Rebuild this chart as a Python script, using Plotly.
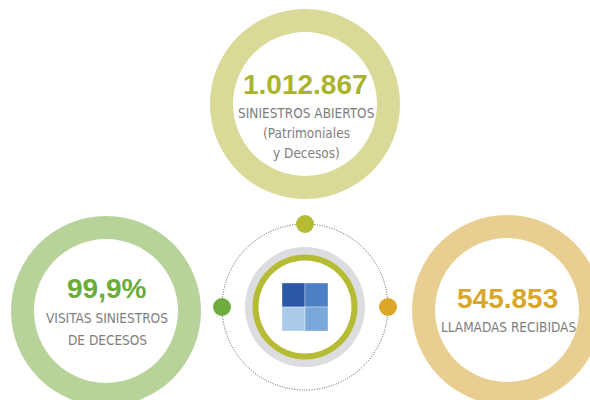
import plotly.graph_objects as go

# ---- data ----
metric_values = ["1.012.867", "99,9%", "545.853"]
metric_labels = [
    ["SINIESTROS ABIERTOS", "(Patrimoniales", "y Decesos)"],
    ["VISITAS SINIESTROS", "DE DECESOS"],
    ["LLAMADAS RECIBIDAS"],
]

# ---- styles / layout constants ----
ring_colors = ["#d9da97", "#b8d39a", "#e8cf91"]
value_colors = ["#a9b42c", "#6aab3b", "#d9a629"]
dot_colors = ["#b5bc33", "#6fac3f", "#dba82a"]
label_color = "#7e7e7e"
centers = [(305, 104), (106, 311), (507, 310)]
R_OUT, R_IN = 95, 72
value_y = [84, 288, 298]
label_y0 = [113, 318, 327]
label_step = [20, 22, 20]

hub = (305, 307)
orbit_r = 83
dot_r = 9
dot_pos = [(hub[0], hub[1] - orbit_r), (hub[0] - orbit_r, hub[1]), (hub[0] + orbit_r, hub[1])]

logo_colors = [["#2a57a6", "#4b81c4"], ["#abc9e9", "#7aa8da"]]
logo_box = (282, 283, 328, 331)
logo_split = (305, 307)

W, H = 590, 400
fig = go.Figure()


def circ(cx, cy, r, fill=None, line=None, layer="below"):
    d = dict(type="circle", xref="x", yref="y", x0=cx - r, x1=cx + r, y0=cy - r, y1=cy + r,
             layer=layer)
    d["fillcolor"] = fill if fill else "rgba(0,0,0,0)"
    d["line"] = line if line else dict(width=0)
    return d


shapes = []
for (cx, cy), col in zip(centers, ring_colors):
    shapes.append(circ(cx, cy, R_OUT, fill=col))
    shapes.append(circ(cx, cy, R_IN, fill="white"))

# hub
shapes.append(circ(hub[0], hub[1], orbit_r, line=dict(color="#555555", width=1, dash="1px,1.5px")))
shapes.append(circ(hub[0], hub[1], 60, fill="#dcdde0"))
shapes.append(circ(hub[0], hub[1], 52.5, fill="#b5bc33"))
shapes.append(circ(hub[0], hub[1], 46.5, fill="white"))
for (x, y), col in zip(dot_pos, dot_colors):
    shapes.append(circ(x, y, dot_r, fill=col))

xs = [logo_box[0], logo_split[0], logo_box[2]]
ys = [logo_box[1], logo_split[1], logo_box[3]]
for i in range(2):
    for j in range(2):
        shapes.append(dict(type="rect", xref="x", yref="y", layer="below",
                           x0=xs[j], x1=xs[j + 1], y0=ys[i], y1=ys[i + 1],
                           fillcolor=logo_colors[i][j], line=dict(width=0.6, color="rgba(255,255,255,0.6)")))

annotations = []
for k, ((cx, cy), val) in enumerate(zip(centers, metric_values)):
    annotations.append(dict(x=cx, y=value_y[k], xref="x", yref="y",
                            text="<b>%s</b>" % val, showarrow=False,
                            font=dict(family="Liberation Sans, Arial, sans-serif", size=28,
                                      color=value_colors[k])))
    for n, line in enumerate(metric_labels[k]):
        annotations.append(dict(x=cx + 1, y=label_y0[k] + n * label_step[k], xref="x", yref="y",
                                text=line, showarrow=False,
                                font=dict(family="DejaVu Sans Condensed, Liberation Sans Narrow, sans-serif",
                                          size=13.5, color=label_color)))

fig.update_layout(
    width=W, height=H, margin=dict(l=0, r=0, t=0, b=0),
    paper_bgcolor="white", plot_bgcolor="white",
    xaxis=dict(range=[0, W], visible=False, fixedrange=True),
    yaxis=dict(range=[H, 0], visible=False, fixedrange=True),
    shapes=shapes, annotations=annotations, showlegend=False,
)
fig.write_html("out.html", config={"displayModeBar": False},
               post_script="document.body.style.margin='0';document.body.style.overflow='hidden';")
